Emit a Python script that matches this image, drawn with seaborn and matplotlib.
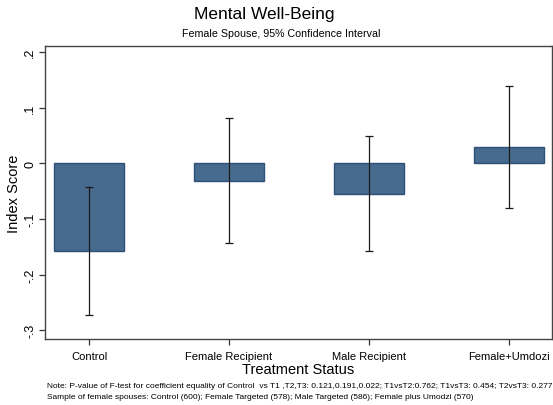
import matplotlib
matplotlib.use("Agg")
import matplotlib.pyplot as plt
import seaborn as sns
import pandas as pd
import numpy as np

# Treatment arms and estimated index scores with 95% CI bounds
groups = ["Control", "Female Recipient", "Male Recipient", "Female+Umdozi"]
means = [-0.158, -0.031, -0.055, 0.029]
ci_low = [-0.273, -0.143, -0.158, -0.081]
ci_high = [-0.043, 0.081, 0.049, 0.139]
ytick_vals = [-0.3, -0.2, -0.1, 0.0, 0.1, 0.2]
ytick_labels = ["-.3", "-.2", "-.1", "0", ".1", ".2"]

sns.set_theme(style="white")
plt.rcParams["font.family"] = ["Liberation Sans", "DejaVu Sans"]
plt.rcParams["text.color"] = "black"
plt.rcParams["axes.labelcolor"] = "black"
plt.rcParams["xtick.color"] = "black"
plt.rcParams["ytick.color"] = "black"

df = pd.DataFrame({"group": groups, "score": means})

fig = plt.figure(figsize=(5.53, 4.06), dpi=100)
ax = fig.add_axes([45 / 553, 1 - 340 / 406, 507 / 553, 293 / 406])

sns.barplot(data=df, x="group", y="score", order=groups, color="#476b8e",
            width=0.5, errorbar=None, edgecolor="#2d5177", linewidth=1.0,
            saturation=1, ax=ax)

x = np.arange(len(groups))
m = np.array(means)
err = np.vstack([m - np.array(ci_low), np.array(ci_high) - m])
ax.errorbar(x, m, yerr=err, fmt="none", ecolor="#1a1a1a", elinewidth=0.9,
            capsize=2.6, capthick=0.9, zorder=5)

ax.set_xlim(-0.315, 3.31)
ax.set_ylim(-0.316, 0.211)
ax.set_yticks(ytick_vals)
ax.set_yticklabels(ytick_labels, rotation=90, va="center", fontsize=9)
ax.tick_params(axis="both", which="both", direction="out", length=4.5,
               width=0.9, color="#333333", left=True, bottom=True)
ax.tick_params(axis="x", labelsize=8, pad=4)
ax.tick_params(axis="y", length=4.2, pad=2.2)

for s in ax.spines.values():
    s.set_visible(True)
    s.set_color("#444444")
    s.set_linewidth(1.0)

ax.set_xlabel("Treatment Status", fontsize=10.5, labelpad=1)
ax.set_ylabel("Index Score", fontsize=10.5, labelpad=0)
ax.yaxis.set_label_coords(-0.047, 0.5)

fig.text(264 / 553, 1 - 15 / 406, "Mental Well-Being", ha="center", va="center",
         fontsize=12.5)
fig.text(281 / 553, 1 - 34 / 406, "Female Spouse, 95% Confidence Interval",
         ha="center", va="center", fontsize=7.7)

fig.text(47 / 553, 1 - 387 / 406,
         "Note: P-value of F-test for coefficient equality of Control  vs T1 ,T2,T3: "
         "0.121,0.191,0.022; T1vsT2:0.762; T1vsT3: 0.454; T2vsT3: 0.277",
         ha="left", va="center", fontsize=6.0)
fig.text(47 / 553, 1 - 398 / 406,
         "Sample of female spouses: Control (600); Female Targeted (578); "
         "Male Targeted (586); Female plus Umodzi (570)",
         ha="left", va="center", fontsize=6.0)

fig.savefig("out.png", dpi=100)
